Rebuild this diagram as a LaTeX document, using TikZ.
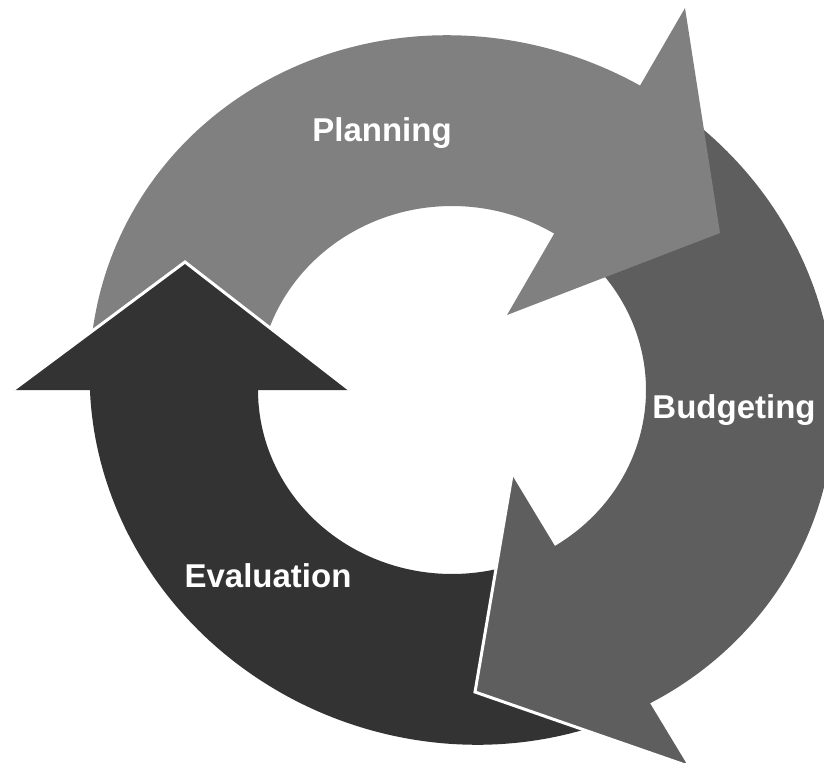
\documentclass[tikz,border=0pt]{standalone}
\usepackage{fontspec}
\newfontfamily\lblfont{Liberation Sans}
\definecolor{planfill}{gray}{0.50}
\definecolor{budgfill}{gray}{0.37}
\definecolor{evalfill}{gray}{0.20}
\begin{document}
\begin{tikzpicture}[x=1bp,y=-1bp,
  % outer rim: tilted ellipse; inner rim: upright ellipse
  declare function={
    ox(\t)=462+352.4*cos(\t)-120.4*sin(\t);
    oy(\t)=390+128.3*cos(\t)+330.8*sin(\t);
    ix(\t)=452+194*cos(\t);
    iy(\t)=390+184*sin(\t);},
  rim/.style={samples=90, variable=\t},
  lbl/.style={text=white, inner sep=0pt, anchor=base,
    font=\lblfont\bfseries\fontsize{33bp}{36bp}\selectfont},
  seam/.style={draw=white, line width=3bp, line join=miter}]
\useasboundingbox (0,0) rectangle (824,763);
\clip (0,0) rectangle (824,763);

% arrow heads: outer barb, tip, inner barb
\coordinate (p-ob) at (685,8);   \coordinate (p-tip) at (720,233);
\coordinate (p-ib) at (507,315);
\coordinate (b-ib) at (512,475); \coordinate (b-tip) at (475,692);
\coordinate (b-ob) at (688,766);
\coordinate (e-ob) at (13,390);  \coordinate (e-tip) at (185,262);
\coordinate (e-ib) at (350,390);

% ring bands; each tail runs under the head before it
\fill[planfill]
  plot[rim, domain=160:281.5] ({ox(\t)},{oy(\t)})
  -- plot[rim, domain=303:183] ({ix(\t)},{iy(\t)}) -- cycle;

\fill[budgfill]
  plot[rim, domain=289:402] ({ox(\t)},{oy(\t)})
  -- plot[rim, domain=60.5:-42] ({ix(\t)},{iy(\t)}) -- cycle;

\fill[evalfill]
  plot[rim, domain=49.5:159.5] ({ox(\t)},{oy(\t)})
  -- plot[rim, domain=181.25:66] ({ix(\t)},{iy(\t)}) -- cycle;

% heads
\fill[planfill] (p-ob) -- (p-tip) -- (p-ib) -- cycle;
\fill[budgfill] (b-ib) -- (b-tip) -- (b-ob) -- cycle;
\fill[evalfill] (e-ob) -- (e-tip) -- (e-ib) -- cycle;

% white edges where a head lies over the next band
\draw[seam] (b-ib) -- (b-tip) -- (b-ob);
\draw[seam] (e-ob) -- (e-tip) -- (e-ib);

% labels
\node[lbl] (planning) at (382,141) {Planning};
\node[lbl] (budgeting) at (734,418) {Budgeting};
\node[lbl] (evaluation) at (268,587) {Evaluation};
\end{tikzpicture}
\end{document}
